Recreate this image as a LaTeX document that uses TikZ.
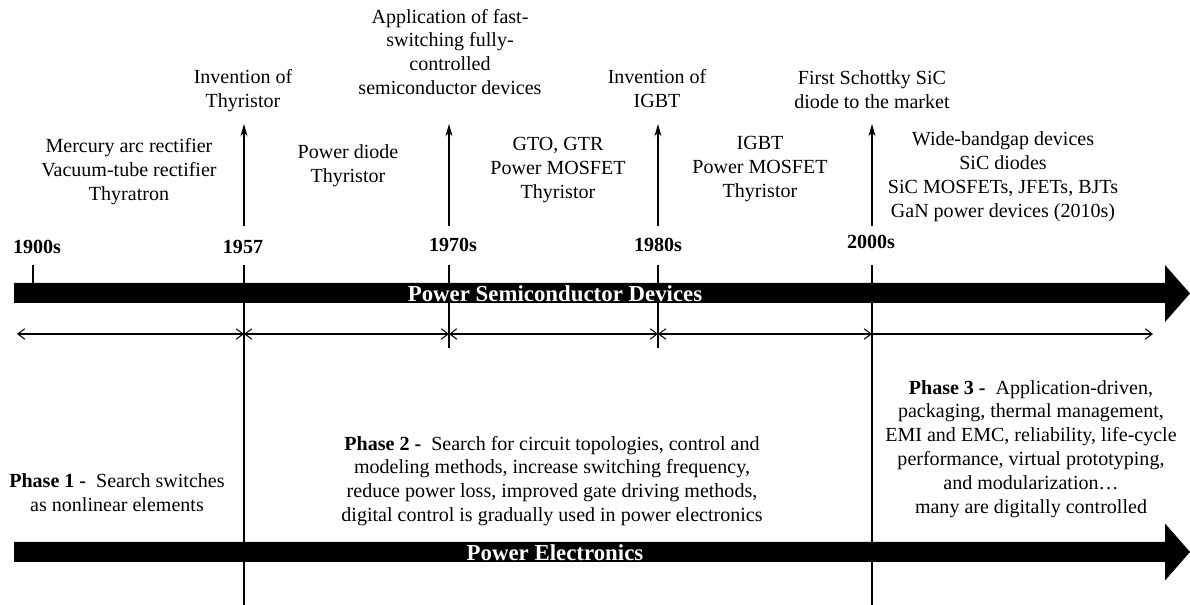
\documentclass[tikz,border=0pt]{standalone}
\usepackage{fontspec}
\setmainfont{Liberation Serif}
\usetikzlibrary{arrows.meta}
\begin{document}
\begin{tikzpicture}[font=\fontsize{11.4}{13.6}\selectfont,
 lbl/.style={align=center, inner sep=1pt},
 yr/.style={font=\fontsize{11.4}{13.6}\selectfont\bfseries},
 band/.style={text=white, font=\fontsize{13}{15}\selectfont\bfseries},
 yline/.style={line width=0.6pt},
 span/.style={line width=0.6pt, {Straight Barb[length=4pt,width=6pt]}-{Straight Barb[length=4pt,width=6pt]}},
 spanr/.style={line width=0.6pt, -{Straight Barb[length=4pt,width=6pt]}},
 up/.style={line width=0.6pt, -{Stealth[length=7pt,width=4pt]}}]
\useasboundingbox (0,0) rectangle (23.8,12.1);
% Balken oben und unten
\fill (0.28,6.04) -- (23.3,6.04) -- (23.3,5.66) -- (23.8,6.23) -- (23.3,6.8) -- (23.3,6.44) -- (0.28,6.44) -- cycle;
\fill (0.28,0.86) -- (23.3,0.86) -- (23.3,0.49) -- (23.8,1.06) -- (23.3,1.63) -- (23.3,1.26) -- (0.28,1.26) -- cycle;
% Jahreslinien
\draw[yline] (0.66,6.8) -- (0.66,6.44);
\draw[yline] (4.88,6.8) -- (4.88,0);
\draw[yline] (8.98,6.8) -- (8.98,5.14);
\draw[yline] (13.16,6.8) -- (13.16,5.14);
\draw[yline] (17.44,6.8) -- (17.44,0);
\node[band] (psd) at (11.1,6.22) {Power Semiconductor Devices};
\node[band] (pe) at (11.1,1.04) {Power Electronics};
% Jahre
\node[yr] (y1900) at (0.74,7.16) {1900s};
\node[yr] (y1957) at (4.86,7.16) {1957};
\node[yr] (y1970) at (9.06,7.2) {1970s};
\node[yr] (y1980) at (13.16,7.2) {1980s};
\node[yr] (y2000) at (17.42,7.26) {2000s};
% Zeitspannen
\coordinate (s0) at (0.34,5.42); \coordinate (s1) at (4.88,5.42);
\coordinate (s2) at (8.98,5.42); \coordinate (s3) at (13.16,5.42);
\coordinate (s4) at (17.44,5.42); \coordinate (s5) at (23.06,5.42);
\draw[span] (s0) -- (s1); \draw[span] (s1) -- (s2); \draw[span] (s2) -- (s3);
\draw[span] (s3) -- (s4); \draw[spanr] (s4) -- (s5);
% Pfeile nach oben
\coordinate (b1) at (4.88,7.58); \coordinate (e1) at (4.88,9.62);
\coordinate (b2) at (8.98,7.58); \coordinate (e2) at (8.98,9.62);
\coordinate (b3) at (13.16,7.58); \coordinate (e3) at (13.16,9.62);
\coordinate (b4) at (17.44,7.58); \coordinate (e4) at (17.44,9.62);
\draw[up] (b1) -- (e1); \draw[up] (b2) -- (e2); \draw[up] (b3) -- (e3); \draw[up] (b4) -- (e4);
% Bauelemente
\node[lbl] (dev0) at (2.58,8.66) {Mercury arc rectifier\\Vacuum-tube rectifier\\Thyratron};
\node[lbl] (inv1) at (4.86,10.28) {Invention of\\Thyristor};
\node[lbl] (dev1) at (6.96,8.78) {Power diode\\Thyristor};
\node[lbl] (inv2) at (9.0,11.06) {Application of fast-\\switching fully-\\controlled\\semiconductor devices};
\node[lbl] (dev2) at (11.16,8.7) {GTO, GTR\\Power MOSFET\\Thyristor};
\node[lbl] (inv3) at (13.14,10.32) {Invention of\\IGBT};
\node[lbl] (dev3) at (15.2,8.72) {IGBT\\Power MOSFET\\Thyristor};
\node[lbl] (inv4) at (17.44,10.3) {First Schottky SiC\\diode to the market};
\node[lbl] (dev4) at (20.06,8.56) {Wide-bandgap devices\\SiC diodes\\SiC MOSFETs, JFETs, BJTs\\GaN power devices (2010s)};
% Phasen
\node[lbl] (ph1) at (2.34,2.24) {\textbf{Phase 1 -}\ \ Search switches\\as nonlinear elements};
\node[lbl] (ph2) at (11.04,2.48) {\textbf{Phase 2 -}\ \ Search for circuit topologies, control and\\modeling methods, increase switching frequency,\\reduce power loss, improved gate driving methods,\\digital control is gradually used in power electronics};
\node[lbl] (ph3) at (20.62,3.12) {\textbf{Phase 3 -}\ \ Application-driven,\\packaging, thermal management,\\EMI and EMC, reliability, life-cycle\\performance, virtual prototyping,\\and modularization…\\many are digitally controlled};
\end{tikzpicture}
\end{document}
